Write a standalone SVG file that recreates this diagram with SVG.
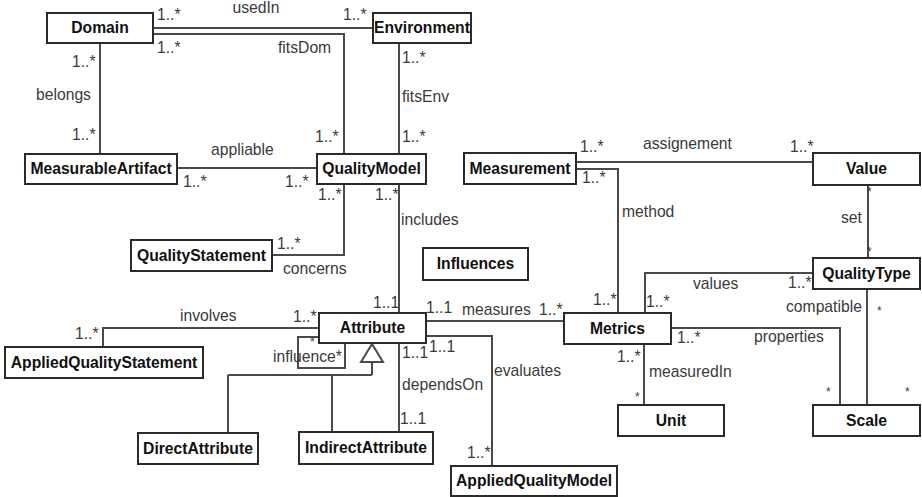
<svg xmlns="http://www.w3.org/2000/svg" width="922" height="497" viewBox="0 0 922 497">
  <style>
    .box { fill: #ffffff; stroke: #2a2a2a; stroke-width: 2; }
    .name { font-family: "Liberation Sans", Arial, sans-serif; font-size: 15.7px; font-weight: bold; fill: #111; text-anchor: middle; }
    .edge { fill: none; stroke: #4a4a4a; stroke-width: 2; }
    .lbl { font-family: "Liberation Sans", Arial, sans-serif; font-size: 15.7px; fill: #3a3a3a; }
    .star { font-family: "Liberation Sans", Arial, sans-serif; font-size: 12px; fill: #3a3a3a; }
  </style>
  <rect width="922" height="497" fill="#ffffff"/>

  <!-- associations -->
  <g id="connectors">
    <path class="edge" d="M153,28 H373"/>
    <path class="edge" d="M153,34 H344 V154"/>
    <path class="edge" d="M399,43 V154"/>
    <path class="edge" d="M100,43 V154"/>
    <path class="edge" d="M177,168 H317"/>
    <path class="edge" d="M272,255 H344 V184"/>
    <path class="edge" d="M399,184 V313"/>
    <path class="edge" d="M319,328 H103 V347"/>
    <path class="edge" d="M319,337 H298 V368 H345 V343"/>
    <path class="edge" d="M399,343 V432"/>
    <path class="edge" d="M426,336 H492 V466"/>
    <path class="edge" d="M426,321 H564"/>
    <path class="edge" d="M576,169 H618 V313"/>
    <path class="edge" d="M576,162 H813"/>
    <path class="edge" d="M868,185 V258"/>
    <path class="edge" d="M813,273 H645 V313"/>
    <path class="edge" d="M867,289 V405"/>
    <path class="edge" d="M671,328 H840 V405"/>
    <path class="edge" d="M644,344 V405"/>
    <!-- generalization of Attribute -->
    <path class="edge" d="M372,362 V375 M228,375 H372 M228,375 V433 M332,375 V432"/>
    <polygon class="edge" style="fill:#ffffff" points="372,344 361,362 383,362"/>
  </g>

  <!-- association and multiplicity labels -->
  <g id="labels">
    <text class="lbl" x="157" y="20">1..*</text>
    <text class="lbl" x="256" y="13" text-anchor="middle">usedIn</text>
    <text class="lbl" x="343" y="20">1..*</text>
    <text class="lbl" x="157" y="53">1..*</text>
    <text class="lbl" x="278" y="53">fitsDom</text>
    <text class="lbl" x="72" y="67">1..*</text>
    <text class="lbl" x="36" y="100">belongs</text>
    <text class="lbl" x="72" y="140">1..*</text>
    <text class="lbl" x="211" y="155">appliable</text>
    <text class="lbl" x="183" y="187">1..*</text>
    <text class="lbl" x="285" y="187">1..*</text>
    <text class="lbl" x="315" y="142">1..*</text>
    <text class="lbl" x="402" y="63">1..*</text>
    <text class="lbl" x="402" y="102">fitsEnv</text>
    <text class="lbl" x="402" y="142">1..*</text>
    <text class="lbl" x="318" y="200">1..*</text>
    <text class="lbl" x="375" y="200">1..*</text>
    <text class="lbl" x="401" y="225">includes</text>
    <text class="lbl" x="277" y="249">1..*</text>
    <text class="lbl" x="283" y="274">concerns</text>
    <text class="lbl" x="373" y="308">1..1</text>
    <text class="lbl" x="426" y="313">1..1</text>
    <text class="lbl" x="462" y="315">measures</text>
    <text class="lbl" x="539" y="315">1..*</text>
    <text class="lbl" x="593" y="305">1..*</text>
    <text class="lbl" x="646" y="307">1..*</text>
    <text class="lbl" x="693" y="289">values</text>
    <text class="lbl" x="788" y="288">1..*</text>
    <text class="lbl" x="786" y="312">compatible</text>
    <text class="star" x="877" y="315">*</text>
    <text class="lbl" x="841" y="223">set</text>
    <text class="star" x="867" y="196">*</text>
    <text class="star" x="867" y="256">*</text>
    <text class="lbl" x="580" y="152">1..*</text>
    <text class="lbl" x="643" y="149">assignement</text>
    <text class="lbl" x="790" y="152">1..*</text>
    <text class="lbl" x="582" y="183">1..*</text>
    <text class="lbl" x="622" y="217">method</text>
    <text class="lbl" x="677" y="343">1..*</text>
    <text class="lbl" x="754" y="342">properties</text>
    <text class="lbl" x="617" y="362">1..*</text>
    <text class="lbl" x="649" y="377">measuredIn</text>
    <text class="star" x="635" y="401">*</text>
    <text class="star" x="826" y="396">*</text>
    <text class="star" x="905" y="396">*</text>
    <text class="lbl" x="494" y="376">evaluates</text>
    <text class="lbl" x="467" y="458">1..*</text>
    <text class="lbl" x="429" y="352">1..1</text>
    <text class="lbl" x="402" y="358">1..1</text>
    <text class="lbl" x="402" y="390">dependsOn</text>
    <text class="lbl" x="400" y="424">1..1</text>
    <text class="lbl" x="180" y="321">involves</text>
    <text class="lbl" x="293" y="322">1..*</text>
    <text class="lbl" x="75" y="339">1..*</text>
    <text class="star" x="310" y="346">*</text>
    <text class="lbl" x="273" y="362">influence*</text>
  </g>

  <!-- classes -->
  <g id="Domain"><rect class="box" x="47" y="13" width="106" height="30"/><text class="name" x="100" y="33">Domain</text></g>
  <g id="Environment"><rect class="box" x="373" y="13" width="98" height="30"/><text class="name" x="422" y="33">Environment</text></g>
  <g id="MeasurableArtifact"><rect class="box" x="25" y="154" width="152" height="30"/><text class="name" x="101" y="174">MeasurableArtifact</text></g>
  <g id="QualityModel"><rect class="box" x="317" y="154" width="109" height="30"/><text class="name" x="371.5" y="174">QualityModel</text></g>
  <g id="QualityStatement"><rect class="box" x="131" y="240" width="141" height="31"/><text class="name" x="201.5" y="261">QualityStatement</text></g>
  <g id="Influences"><rect class="box" x="423" y="248" width="105" height="32"/><text class="name" x="475.5" y="269">Influences</text></g>
  <g id="Measurement"><rect class="box" x="464" y="153" width="112" height="31"/><text class="name" x="520" y="174">Measurement</text></g>
  <g id="Value"><rect class="box" x="813" y="153" width="107" height="32"/><text class="name" x="866.5" y="174">Value</text></g>
  <g id="QualityType"><rect class="box" x="813" y="258" width="107" height="31"/><text class="name" x="866.5" y="279">QualityType</text></g>
  <g id="Attribute"><rect class="box" x="319" y="313" width="107" height="30"/><text class="name" x="372.5" y="333">Attribute</text></g>
  <g id="Metrics"><rect class="box" x="564" y="313" width="107" height="31"/><text class="name" x="617.5" y="334">Metrics</text></g>
  <g id="AppliedQualityStatement"><rect class="box" x="5" y="347" width="198" height="31"/><text class="name" x="104" y="368">AppliedQualityStatement</text></g>
  <g id="DirectAttribute"><rect class="box" x="138" y="433" width="120" height="31"/><text class="name" x="198" y="454">DirectAttribute</text></g>
  <g id="IndirectAttribute"><rect class="box" x="299" y="432" width="134" height="32"/><text class="name" x="366" y="453">IndirectAttribute</text></g>
  <g id="AppliedQualityModel"><rect class="box" x="451" y="466" width="166" height="30"/><text class="name" x="534" y="486">AppliedQualityModel</text></g>
  <g id="Unit"><rect class="box" x="618" y="405" width="106" height="31"/><text class="name" x="671" y="426">Unit</text></g>
  <g id="Scale"><rect class="box" x="813" y="405" width="107" height="31"/><text class="name" x="866.5" y="426">Scale</text></g>
</svg>
